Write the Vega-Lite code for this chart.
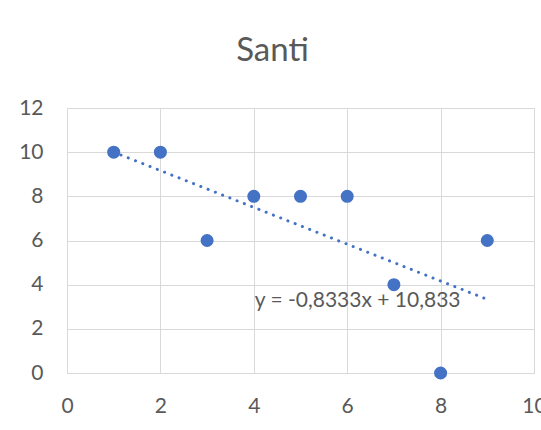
{
  "$schema": "https://vega.github.io/schema/vega-lite/v6.json",
  "autosize": "none",
  "width": 467,
  "height": 265,
  "padding": {"left": 67, "top": 108, "right": 7, "bottom": 57},
  "background": "white",
  "config": {
    "view": {"stroke": null},
    "font": "Lato",
    "axis": {
      "grid": true,
      "gridColor": "#d9d9d9",
      "gridWidth": 1,
      "domainColor": "#d9d9d9",
      "domainWidth": 1,
      "ticks": false,
      "labelFont": "Lato",
      "labelFontSize": 21,
      "labelColor": "#595959",
      "title": null,
      "labelOverlap": false,
      "labelFlush": false
    }
  },
  "title": {
    "text": "Santi",
    "font": "Lato",
    "fontSize": 33,
    "fontWeight": "normal",
    "color": "#595959",
    "anchor": "middle",
    "frame": "group",
    "dx": -28,
    "baseline": "alphabetic",
    "offset": 3
  },
  "data": {
    "values": [
      {"x": 1, "y": 10},
      {"x": 2, "y": 10},
      {"x": 3, "y": 6},
      {"x": 4, "y": 8},
      {"x": 5, "y": 8},
      {"x": 6, "y": 8},
      {"x": 7, "y": 4},
      {"x": 8, "y": 0},
      {"x": 9, "y": 6}
    ]
  },
  "encoding": {
    "x": {
      "field": "x",
      "type": "quantitative",
      "scale": {"domain": [0, 10], "nice": false, "zero": false},
      "axis": {"values": [0, 2, 4, 6, 8, 10], "labelPadding": 22}
    },
    "y": {
      "field": "y",
      "type": "quantitative",
      "scale": {"domain": [0, 12], "nice": false},
      "axis": {"values": [0, 2, 4, 6, 8, 10, 12], "labelPadding": 24}
    }
  },
  "layer": [
    {
      "transform": [{"regression": "y", "on": "x"}],
      "mark": {
        "type": "line",
        "color": "#4472C4",
        "strokeWidth": 3,
        "strokeDash": [0.1, 7.7],
        "strokeCap": "round"
      }
    },
    {
      "mark": {"type": "circle", "color": "#4472C4", "opacity": 1, "size": 170}
    },
    {
      "data": {"values": [{"x": 4.02, "y": 3.27, "label": "y = -0,8333x + 10,833"}]},
      "mark": {
        "type": "text",
        "align": "left",
        "baseline": "middle",
        "font": "Lato",
        "fontSize": 21,
        "color": "#595959"
      },
      "encoding": {
        "text": {"field": "label", "type": "nominal"}
      }
    }
  ]
}
